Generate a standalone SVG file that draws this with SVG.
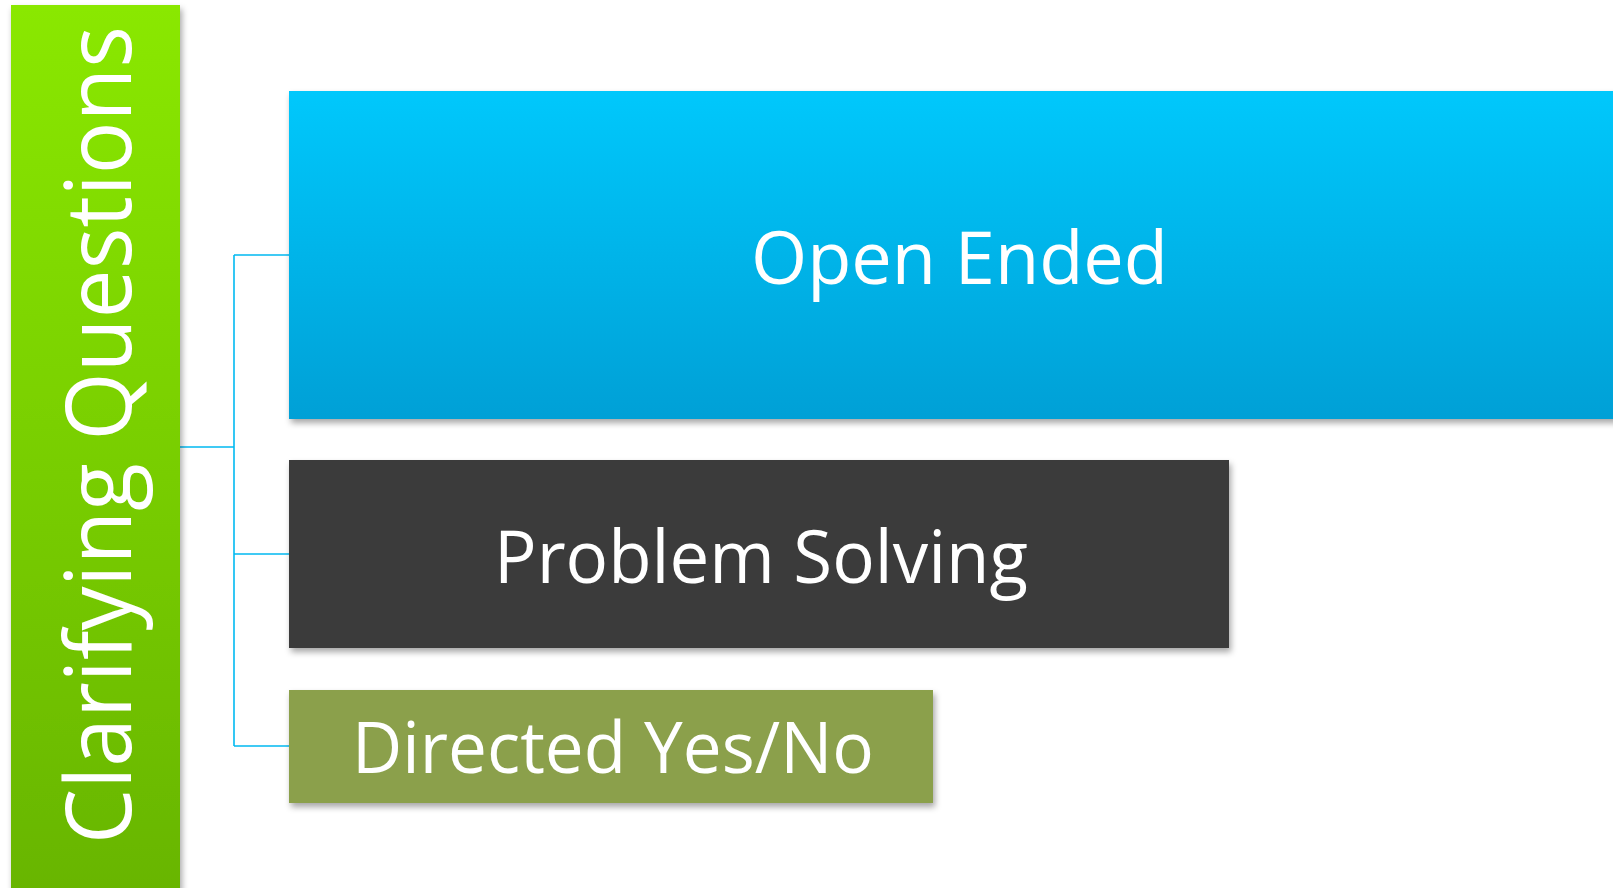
<svg xmlns="http://www.w3.org/2000/svg" width="1613" height="888" viewBox="0 0 1613 888">
  <defs>
    <linearGradient id="gradGreen" x1="0" y1="0" x2="0" y2="1">
      <stop offset="0" stop-color="#8ae805"/>
      <stop offset="1" stop-color="#68b500"/>
    </linearGradient>
    <linearGradient id="gradBlue" x1="0" y1="0" x2="0" y2="1">
      <stop offset="0" stop-color="#00c8fc"/>
      <stop offset="1" stop-color="#00a0d6"/>
    </linearGradient>
    <filter id="shadow" x="-10%" y="-10%" width="120%" height="130%">
      <feDropShadow dx="2" dy="4" stdDeviation="3" flood-color="#000" flood-opacity="0.35"/>
    </filter>
    <style>
      .label { font-family: "Open Sans", "Liberation Sans", sans-serif; fill: #ffffff; }
      .conn { fill: none; stroke: #00b9f1; stroke-width: 1.6; }
    </style>
  </defs>

  <rect width="1613" height="888" fill="#ffffff"/>

  <!-- connectors -->
  <g id="connectors">
    <path class="conn" d="M180 447 H234"/>
    <path class="conn" d="M234 255 V746"/>
    <path class="conn" d="M234 255 H289"/>
    <path class="conn" d="M234 554 H289"/>
    <path class="conn" d="M234 746 H289"/>
  </g>

  <!-- root -->
  <g id="clarifying-questions">
    <rect x="11" y="5" width="169" height="890" fill="url(#gradGreen)" filter="url(#shadow)"/>
    <text class="label" transform="translate(131 435) rotate(-90)" text-anchor="middle" font-size="92" textLength="818" lengthAdjust="spacingAndGlyphs">Clarifying Questions</text>
  </g>

  <g id="open-ended">
    <rect x="289" y="91" width="1330" height="328" fill="url(#gradBlue)" filter="url(#shadow)"/>
    <text class="label" x="959.5" y="284" text-anchor="middle" font-size="74" textLength="417" lengthAdjust="spacingAndGlyphs">Open Ended</text>
  </g>

  <g id="problem-solving">
    <rect x="289" y="460" width="940" height="188" fill="#3a3a3a" filter="url(#shadow)"/>
    <text class="label" x="761" y="583" text-anchor="middle" font-size="73" textLength="534" lengthAdjust="spacingAndGlyphs">Problem Solving</text>
  </g>

  <g id="directed-yes-no">
    <rect x="289" y="690" width="644" height="113" fill="#8ba04c" filter="url(#shadow)"/>
    <text class="label" x="613" y="773" text-anchor="middle" font-size="71" textLength="522" lengthAdjust="spacingAndGlyphs">Directed Yes/No</text>
  </g>
</svg>
